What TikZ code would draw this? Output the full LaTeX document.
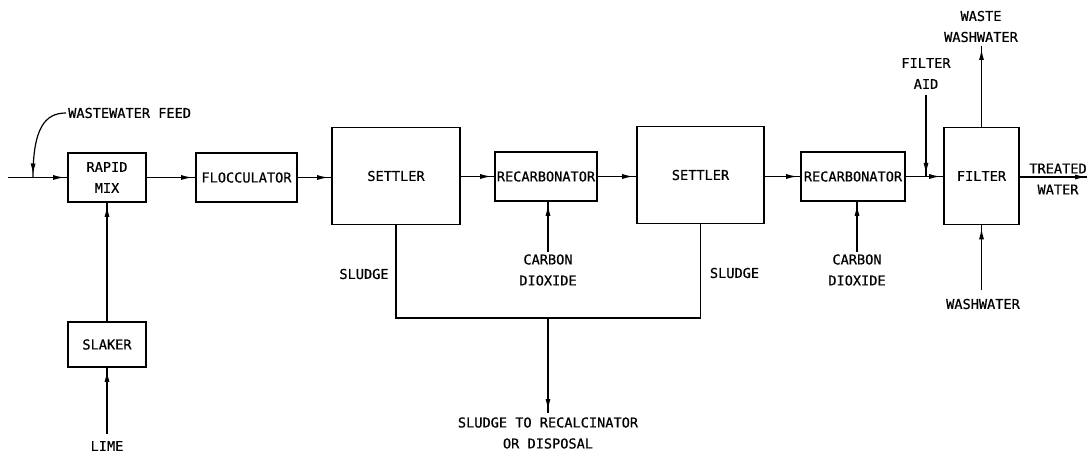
\documentclass[tikz,border=0pt]{standalone}
\usepackage{fontspec}
\newfontfamily\lblfont{DejaVu Sans Mono}[FakeBold=0.6]
\usetikzlibrary{arrows.meta,decorations.markings}
\begin{document}
\begin{tikzpicture}[x=1pt,y=-1pt,
  every node/.style={font=\lblfont\fontsize{13.6}{21}\selectfont, align=center, inner sep=2pt},
  unit/.style={draw, line width=1.6pt, minimum width=#1, inner sep=0pt},
  flow/.style={line width=1.2pt, postaction={decorate},
    decoration={markings, mark=at position -3pt with {\arrow{Latex[length=11pt,width=5pt]}}}},
  plain/.style={line width=1.2pt}]
\useasboundingbox (0,0) rectangle (1087,454);
% units
\node[unit=78pt, minimum height=49pt] (rapid) at (107,177.5) {RAPID\\MIX};
\node[unit=78pt, minimum height=45pt] (slaker) at (107,344.5) {SLAKER};
\node[unit=101pt, minimum height=49pt] (floc) at (246.5,177.5) {FLOCCULATOR};
\node[unit=128pt, minimum height=97pt] (set1) at (396,176) {SETTLER};
\node[unit=102pt, minimum height=49pt] (rec1) at (546,176.5) {RECARBONATOR};
\node[unit=127pt, minimum height=97pt] (set2) at (700.5,175) {SETTLER};
\node[unit=104pt, minimum height=49pt] (rec2) at (853,176.5) {RECARBONATOR};
\node[unit=75pt, minimum height=97pt] (filter) at (981.5,176) {FILTER};
% labels
\node[anchor=west] (wf) at (66,113) {WASTEWATER FEED};
\node (lime) at (107,446) {LIME};
\node (co1) at (548,270) {CARBON\\DIOXIDE};
\node (co2) at (857,270) {CARBON\\DIOXIDE};
\node (sl1) at (364,274) {SLUDGE};
\node (sl2) at (734.5,273) {SLUDGE};
\node (disp) at (548,433) {SLUDGE TO RECALCINATOR\\OR DISPOSAL};
\node (fa) at (926,73.5) {FILTER\\AID};
\node (ww) at (981,26.5) {WASTE\\WASHWATER};
\node (wash) at (983,304) {WASHWATER};
\node (tw) at (1058,179) {TREATED\\WATER};
% coordinates
\coordinate (feedin) at (8,177.5);
\coordinate (feedj) at (33,177.5);
\coordinate (limein) at (107,434);
\coordinate (sj) at (548,318);
\coordinate (dtip) at (548,413);
\coordinate (faj) at (926,177);
\coordinate (faend) at (926,95);
\coordinate (wwend) at (981.5,46);
\coordinate (washin) at (981.5,290);
\coordinate (twend) at (1089,177);
% main flow
\draw[flow] (feedin) -- (rapid.west);
\draw[flow] (wf.west) .. controls (45,113) and (33,128) .. (feedj);
\draw[flow] (rapid.east) -- (floc.west);
\draw[flow] (floc.east) -- (floc.east -| set1.west);
\draw[flow] (set1.east |- rec1.west) -- (rec1.west);
\draw[flow] (rec1.east) -- (rec1.east -| set2.west);
\draw[flow] (set2.east |- rec2.west) -- (rec2.west);
\draw[flow] (rec2.east) -- (rec2.east -| filter.west);
\draw[flow] (filter.east |- twend) -- (twend);
% side streams
\draw[flow] (slaker.north) -- (rapid.south);
\draw[flow] (limein) -- (slaker.south);
\draw[flow] (co1.north) -- (co1.north |- rec1.south);
\draw[flow] (co2.north) -- (co2.north |- rec2.south);
\draw[flow] (faend) -- (faj);
\draw[flow] (filter.north) -- (wwend);
\draw[flow] (washin) -- (filter.south);
% sludge
\draw[plain] (set1.south) -- (set1.south |- sj) -- (set2.south |- sj) -- (set2.south);
\draw[flow] (sj) -- (dtip);
\end{tikzpicture}
\end{document}
